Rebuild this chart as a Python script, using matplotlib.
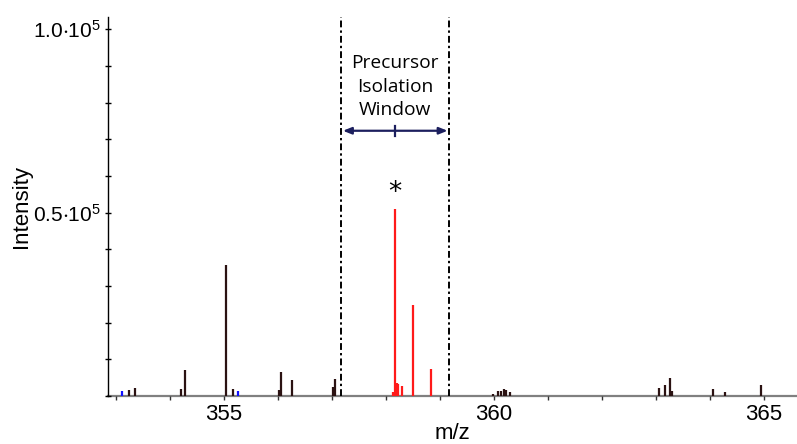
import matplotlib
matplotlib.use("Agg")
import matplotlib.pyplot as plt
from matplotlib.ticker import MultipleLocator, FixedLocator, FuncFormatter

plt.rcParams['font.family'] = ['Liberation Sans', 'DejaVu Sans']
plt.rcParams['mathtext.fontset'] = 'custom'
plt.rcParams['mathtext.rm'] = 'Liberation Sans'
plt.rcParams['mathtext.it'] = 'Liberation Sans'

# Fragment peaks outside the isolation window (m/z, intensity)
other_mz = [353.241, 353.352, 354.198, 354.272, 355.043, 355.172, 356.024, 356.056,
            356.259, 357.024, 357.050, 359.987, 360.080, 360.130, 360.185, 360.220,
            360.300, 363.056, 363.172, 363.265, 363.296, 364.056, 364.278, 364.940]
other_int = [1600, 2200, 1900, 7100, 35700, 1900, 1600, 6500,
             4400, 2500, 4600, 500, 1400, 1400, 1900, 1600,
             1100, 2200, 3000, 4900, 1400, 1900, 1100, 3000]

# Low-level peaks shown in blue
blue_mz = [353.117, 355.265]
blue_int = [1400, 1400]

# Precursor isotope envelope (red)
prec_mz = [358.135, 358.167, 358.198, 358.213, 358.302, 358.506, 358.833]
prec_int = [1100, 51000, 3500, 3300, 2700, 24800, 7400]

precursor_center = 358.17
window_half_width = 1.0

xlim = (352.85, 365.61)
ylim = (0, 103300)

fig = plt.figure(figsize=(7.97, 4.44), dpi=100)
ax = fig.add_axes([0.1355, 0.108, 0.8645, 0.8537])

dark = '#2b1212'
ax.vlines(other_mz, 0, other_int, color=dark, lw=1.6)
ax.vlines(blue_mz, 0, blue_int, color='#1010ff', lw=1.6)
ax.vlines(prec_mz, 0, prec_int, color='#ff1a1a', lw=1.6)

# Isolation window boundaries
lo = precursor_center - window_half_width
hi = precursor_center + window_half_width
for xv in (lo, hi):
    ax.plot([xv, xv], [0, ylim[1]], color='black', lw=1.4,
            dashes=[3.5, 1.6, 1.2, 1.6], zorder=3, clip_on=False)

# Double arrow spanning the window
arrow_y = 72300
ax.annotate('', xy=(lo + 0.03, arrow_y), xytext=(hi - 0.03, arrow_y),
            arrowprops=dict(arrowstyle='<|-|>,head_length=0.5,head_width=0.2',
                            color='#1c1f5e', lw=1.6, shrinkA=0, shrinkB=0))
ax.plot([precursor_center, precursor_center], [arrow_y - 1400, arrow_y + 1400],
        color='#1c1f5e', lw=1.6)

ax.text(precursor_center, 84300, 'Precursor\nIsolation\nWindow', ha='center', va='center',
        fontsize=13.8, family=['Open Sans', 'DejaVu Sans'], linespacing=1.4)
ax.text(358.17, 55300, '*', ha='center', va='center', fontsize=19,
        family=['DejaVu Sans'])

ax.set_xlim(*xlim)
ax.set_ylim(*ylim)

for s in ('top', 'right'):
    ax.spines[s].set_visible(False)
ax.spines['bottom'].set_color('#808080')
ax.spines['bottom'].set_linewidth(1.6)
ax.spines['left'].set_color('black')
ax.spines['left'].set_linewidth(1.0)
ax.spines['bottom'].set_zorder(1)

ax.xaxis.set_major_locator(FixedLocator([355, 360, 365]))
ax.xaxis.set_minor_locator(MultipleLocator(1))
ax.tick_params(axis='x', which='both', direction='out', length=3, width=1,
               color='#333333', labelsize=16, pad=3)

ax.yaxis.set_major_locator(FixedLocator([50000, 100000]))
ax.yaxis.set_minor_locator(MultipleLocator(10000))
ax.yaxis.set_major_formatter(FuncFormatter(
    lambda v, p: r'$\mathregular{%.1f{\cdot}10^5}$' % (v / 1e5)))
ax.tick_params(axis='y', which='both', direction='inout', length=4, width=1,
               labelsize=15, pad=3)

ax.set_xlabel('m/z', fontsize=16, labelpad=-2)
ax.set_ylabel('Intensity', fontsize=16, labelpad=1)

fig.savefig('out.png', dpi=100)
